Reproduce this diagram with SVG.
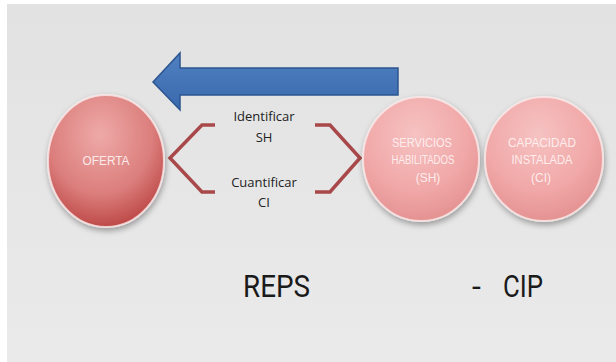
<svg xmlns="http://www.w3.org/2000/svg" width="616" height="362" viewBox="0 0 616 362">
<defs>
<linearGradient id="bg" x1="0" y1="0" x2="0" y2="1">
<stop offset="0" stop-color="#e2e2e2"/><stop offset="1" stop-color="#eaeaea"/>
</linearGradient>
<radialGradient id="gRed" cx="0.45" cy="0.3" r="0.75">
<stop offset="0" stop-color="#eeaaa8"/><stop offset="0.6" stop-color="#db7e7c"/><stop offset="1" stop-color="#b8403e"/>
</radialGradient>
<radialGradient id="gPink" cx="0.45" cy="0.3" r="0.75">
<stop offset="0" stop-color="#f6c2c2"/><stop offset="0.6" stop-color="#f1a8a8"/><stop offset="1" stop-color="#e28e8e"/>
</radialGradient>
<linearGradient id="gArrow" x1="0" y1="0" x2="0" y2="1">
<stop offset="0" stop-color="#4f81c2"/><stop offset="1" stop-color="#3a68ac"/>
</linearGradient>
<filter id="sh" x="-20%" y="-20%" width="140%" height="140%">
<feGaussianBlur in="SourceAlpha" stdDeviation="3"/><feOffset dx="1" dy="3"/>
<feComponentTransfer><feFuncA type="linear" slope="0.35"/></feComponentTransfer>
<feMerge><feMergeNode/><feMergeNode in="SourceGraphic"/></feMerge>
</filter>
</defs>
<style>
.ball{stroke:#fbeaea;stroke-width:2;stroke-opacity:0.8}
.btxt{font-family:"Liberation Sans",Arial,sans-serif;font-size:12px;fill:#fff4f4;fill-opacity:0.92;text-anchor:middle}
.lbl{font-family:"Open Sans","Liberation Sans",sans-serif;font-size:13px;fill:#222;text-anchor:middle}
.big{font-family:"Roboto","Liberation Sans",sans-serif;font-size:32px;fill:#1a1a1a}
.br{fill:none;stroke:#a8484a;stroke-width:3.5;stroke-linejoin:miter}
</style>
<rect width="616" height="362" fill="#ffffff"/>
<rect x="7" y="4" width="609" height="358" fill="url(#bg)"/>

<g id="arrow">
<path d="M153,82 L180,53 L180,68 L398,68 L398,95 L180,95 L180,110 Z" fill="url(#gArrow)" stroke="#2d5590" stroke-width="1.5"/>
</g>

<g id="connectors">
<path class="br" d="M215,125 L202,125 L170,158 L202,192 L215,192"/>
<path class="br" d="M315,125 L330,125 L360,158 L330,192 L315,192"/>
</g>

<g id="oferta">
<ellipse cx="106" cy="161" rx="58" ry="66" fill="url(#gRed)" class="ball" filter="url(#sh)"/>
<text class="btxt" x="106" y="165" textLength="47" lengthAdjust="spacingAndGlyphs">OFERTA</text>
</g>

<g id="servicios">
<ellipse cx="421" cy="159" rx="58" ry="62" fill="url(#gPink)" class="ball" filter="url(#sh)"/>
<text class="btxt" x="422" y="147" textLength="60" lengthAdjust="spacingAndGlyphs">SERVICIOS</text>
<text class="btxt" x="423" y="164" textLength="63" lengthAdjust="spacingAndGlyphs">HABILITADOS</text>
<text class="btxt" x="428" y="182">(SH)</text>
</g>

<g id="capacidad">
<ellipse cx="544" cy="159" rx="59" ry="62" fill="url(#gPink)" class="ball" filter="url(#sh)"/>
<text class="btxt" x="542" y="147" textLength="68" lengthAdjust="spacingAndGlyphs">CAPACIDAD</text>
<text class="btxt" x="542" y="164" textLength="61" lengthAdjust="spacingAndGlyphs">INSTALADA</text>
<text class="btxt" x="541" y="182">(CI)</text>
</g>

<g id="labels">
<text class="lbl" x="264" y="121">Identificar</text>
<text class="lbl" x="264" y="142">SH</text>
<text class="lbl" x="264" y="187">Cuantificar</text>
<text class="lbl" x="264" y="207">CI</text>
<text class="big" x="243" y="297" textLength="67" lengthAdjust="spacingAndGlyphs">REPS</text>
<text class="big" x="472" y="297">-</text>
<text class="big" x="503" y="297" textLength="40" lengthAdjust="spacingAndGlyphs">CIP</text>
</g>
</svg>
